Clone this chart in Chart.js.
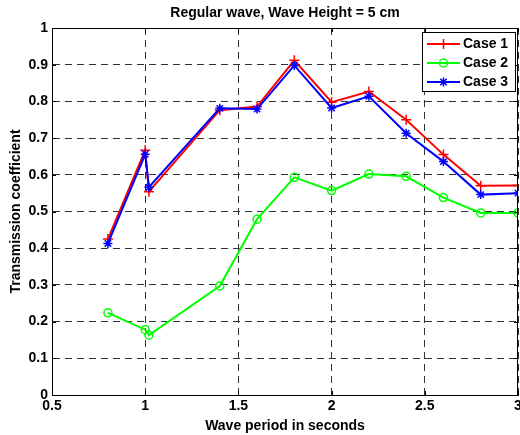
<!DOCTYPE html>
<html>
<head>
<meta charset="utf-8">
<script src="https://cdn.jsdelivr.net/npm/chart.js@4.4.0/dist/chart.umd.min.js"></script>
<style>
  html, body { margin: 0; padding: 0; background: #fff; }
  #wrap { width: 520px; height: 435px; }
</style>
</head>
<body>
<div id="wrap"><canvas id="chart" width="520" height="435"></canvas></div>
<script>
// Wave periods (s) and measured transmission coefficients
const periods = [0.8, 1.0, 1.02, 1.4, 1.6, 1.8, 2.0, 2.2, 2.4, 2.6, 2.8, 3.0];
const case1 = [0.425, 0.667, 0.554, 0.776, 0.786, 0.912, 0.798, 0.827, 0.750, 0.655, 0.570, 0.571];
const case2 = [0.224, 0.178, 0.163, 0.297, 0.479, 0.593, 0.557, 0.602, 0.596, 0.538, 0.496, 0.496];
const case3 = [0.413, 0.656, 0.566, 0.781, 0.779, 0.898, 0.782, 0.814, 0.713, 0.636, 0.546, 0.550];
const seriesNames = ['Case 1', 'Case 2', 'Case 3'];
const xTicks = [0.5, 1, 1.5, 2, 2.5, 3];

const FONT = 'Liberation Sans, Arial, sans-serif';
const BOLD14 = { family: FONT, size: 14, weight: 'bold' };

const toPoints = vals => vals.map((v, i) => ({ x: periods[i], y: v }));

// MATLAB-like box, inner ticks and legend
const boxPlugin = {
  id: 'matlabBox',
  afterDraw(chart) {
    const { ctx, chartArea: a, scales } = chart;
    ctx.save();
    ctx.strokeStyle = '#000';
    ctx.lineWidth = 1;
    ctx.setLineDash([]);
    ctx.strokeRect(Math.round(a.left) + 0.5, Math.round(a.top) + 0.5,
      Math.round(a.right - a.left) - 1, Math.round(a.bottom - a.top));

    // inner ticks
    const len = 4;
    ctx.beginPath();
    scales.x.ticks.forEach(t => {
      const px = Math.round(scales.x.getPixelForValue(t.value)) + 0.5;
      ctx.moveTo(px, a.bottom); ctx.lineTo(px, a.bottom - len);
      ctx.moveTo(px, a.top); ctx.lineTo(px, a.top + len);
    });
    scales.y.ticks.forEach(t => {
      const py = Math.round(scales.y.getPixelForValue(t.value)) + 0.5;
      ctx.moveTo(a.left, py); ctx.lineTo(a.left + len, py);
      ctx.moveTo(a.right, py); ctx.lineTo(a.right - len, py);
    });
    ctx.stroke();

    // legend
    const bx = 422.5, by = 32.5, bw = 93, bh = 59;
    ctx.fillStyle = '#fff';
    ctx.fillRect(bx, by, bw, bh);
    ctx.strokeRect(bx, by, bw, bh);
    const rows = [44, 63, 82];
    chart.data.datasets.forEach((ds, i) => {
      const y = rows[i];
      ctx.strokeStyle = ds.borderColor;
      ctx.lineWidth = 2;
      ctx.beginPath();
      ctx.moveTo(427, y); ctx.lineTo(460, y);
      ctx.stroke();
      ctx.fillStyle = 'rgba(0,0,0,0)';
      ctx.lineWidth = ds.pointBorderWidth;
      Chart.helpers.drawPoint(ctx, {
        pointStyle: ds.pointStyle, radius: ds.pointRadius, rotation: 0,
        borderWidth: ds.pointBorderWidth
      }, 443.5, y);
      ctx.fillStyle = '#000';
      ctx.font = 'bold 14px ' + FONT;
      ctx.textBaseline = 'middle';
      ctx.textAlign = 'left';
      ctx.fillText(seriesNames[i], 463, y + 0.5);
    });
    ctx.restore();
  }
};

const common = {
  showLine: true,
  tension: 0,
  borderWidth: 2,
  pointRadius: 4,
  pointBorderWidth: 1.5,
  pointBackgroundColor: 'rgba(0,0,0,0)',
  fill: false
};

new Chart(document.getElementById('chart'), {
  type: 'scatter',
  data: {
    datasets: [
      Object.assign({}, common, { label: seriesNames[0], data: toPoints(case1),
        borderColor: '#ff0000', pointBorderColor: '#ff0000', pointStyle: 'cross', pointRadius: 5, order: 2 }),
      Object.assign({}, common, { label: seriesNames[1], data: toPoints(case2),
        borderColor: '#00ff00', pointBorderColor: '#00ff00', pointStyle: 'circle', pointRadius: 4, order: 1 }),
      Object.assign({}, common, { label: seriesNames[2], data: toPoints(case3),
        borderColor: '#0000ff', pointBorderColor: '#0000ff', pointStyle: 'star', pointRadius: 4.5, order: 0 })
    ]
  },
  options: {
    responsive: false,
    animation: false,
    layout: { autoPadding: false, padding: { left: 0, right: 2, top: 0, bottom: 0 } },
    plugins: {
      legend: { display: false },
      tooltip: { enabled: false }
    },
    scales: {
      // top axis only carries the title so it is centred over the plot box
      top: {
        type: 'linear', position: 'top',
        min: 0.5, max: 3,
        afterFit: s => { s.height = 28; s.paddingLeft = 0; s.paddingRight = 0; },
        ticks: { display: false },
        grid: { display: false, drawTicks: false },
        border: { display: false },
        title: {
          display: true, text: 'Regular wave, Wave Height = 5 cm', color: '#000',
          font: BOLD14, padding: { top: 4.6, bottom: 0 }
        }
      },
      x: {
        type: 'linear',
        min: 0.5, max: 3,
        afterBuildTicks: s => { s.ticks = xTicks.map(v => ({ value: v })); },
        afterFit: s => { s.height = 40; s.paddingLeft = 0; s.paddingRight = 0; },
        ticks: {
          color: '#000', padding: 2.6, maxRotation: 0,
          font: BOLD14,
          callback: v => String(v)
        },
        grid: { color: '#333', lineWidth: 1, drawTicks: false },
        border: { display: true, color: '#000', dash: [7, 5] },
        title: {
          display: true, text: 'Wave period in seconds', color: '#000',
          font: BOLD14, padding: { top: 0, bottom: 0.6 }
        }
      },
      y: {
        min: 0, max: 1,
        afterFit: s => { s.width = 52; s.paddingTop = 0; s.paddingBottom = 0; },
        ticks: {
          stepSize: 0.1, color: '#000', padding: 4,
          font: BOLD14,
          callback: v => String(Math.round(v * 10) / 10)
        },
        grid: { color: '#333', lineWidth: 1, drawTicks: false },
        border: { display: true, color: '#000', dash: [7, 5] },
        title: {
          display: true, text: 'Transmission coefficient', color: '#000',
          font: BOLD14, padding: { top: 7.6, bottom: 0 }
        }
      }
    }
  },
  plugins: [boxPlugin]
});
</script>
</body>
</html>
